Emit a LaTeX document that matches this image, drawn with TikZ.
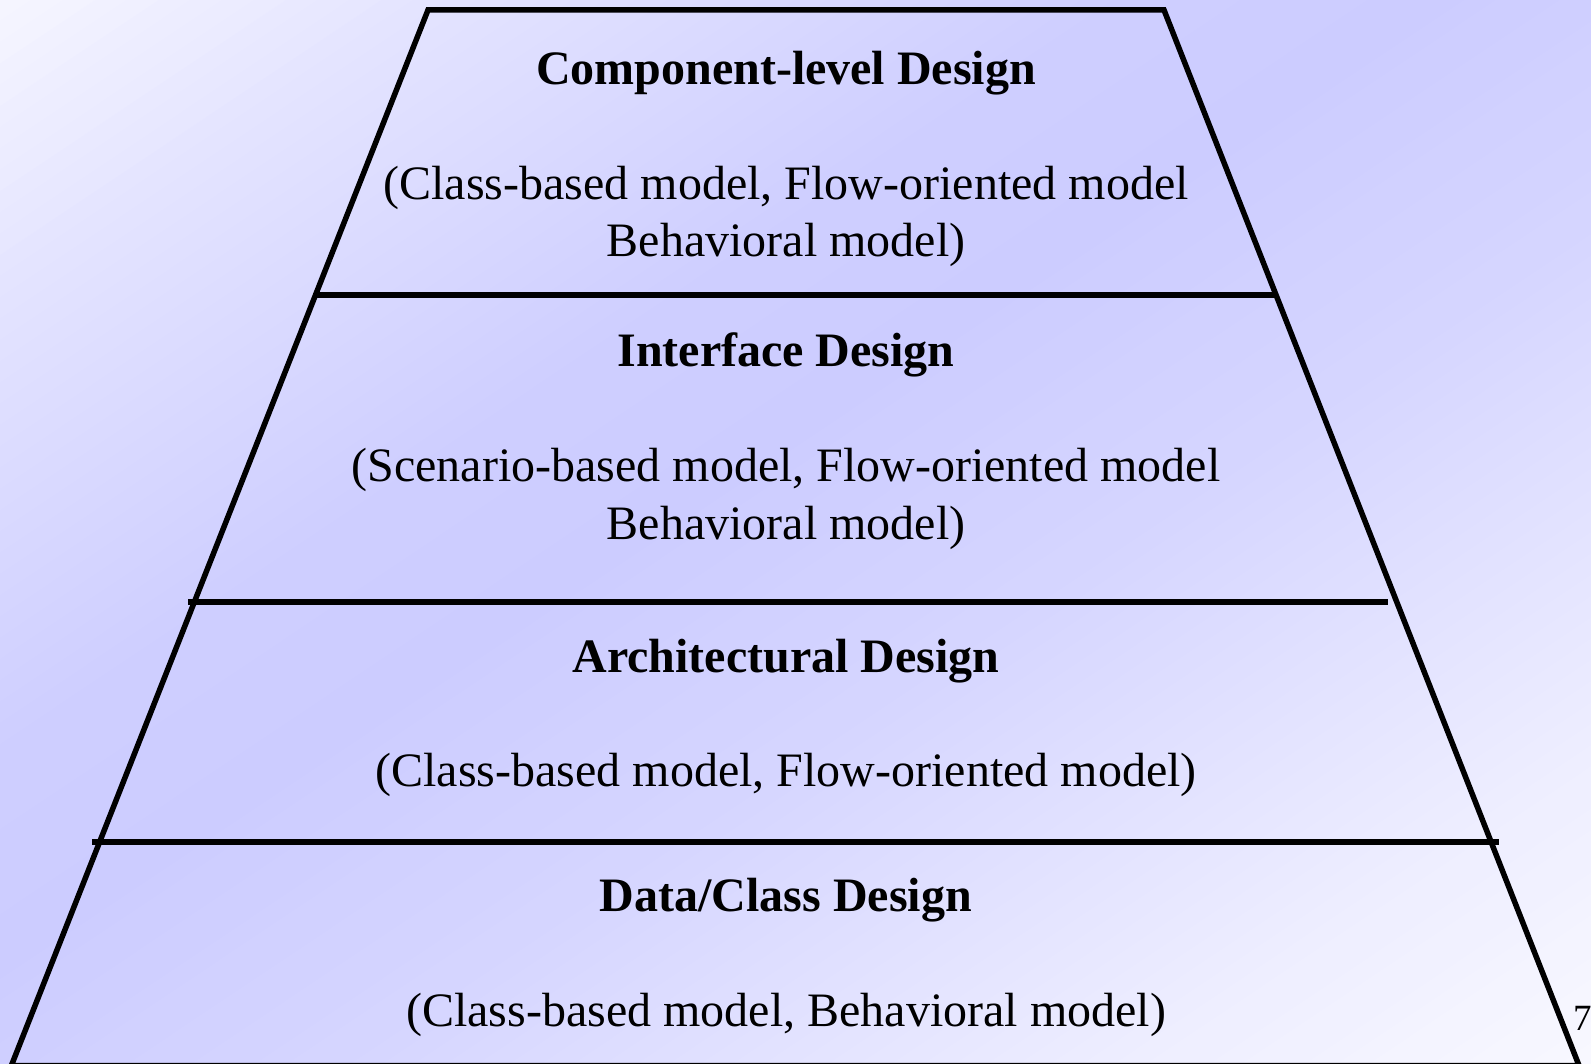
\documentclass[tikz,border=0pt]{standalone}
\usepackage{fontspec}
\setmainfont{Liberation Serif}
\definecolor{lav}{HTML}{CCCCFF}
\definecolor{pale}{HTML}{F8F8FF}
\tikzset{
  edge/.style={line width=5.5pt, black},
  ttl/.style={anchor=base, inner sep=0pt, font=\fontsize{48}{57}\selectfont\bfseries},
  sub/.style={anchor=base, inner sep=0pt, font=\fontsize{48}{57}\selectfont},
  pg/.style={anchor=base west, inner sep=0pt, font=\fontsize{37}{40}\selectfont}
}
\begin{document}
\begin{tikzpicture}[x=1pt,y=-1pt]
\def\W{1591}\def\H{1064}
\useasboundingbox (0,0) rectangle (1591,1064);
% diagonal gradient background: strips parallel to the anti-diagonal
\begin{scope}
\clip (0,0) rectangle (1591,1064);
\foreach \i in {0,...,99}{
  \pgfmathsetmacro{\ta}{\i/100}
  \pgfmathsetmacro{\tb}{(\i+1.6)/100}
  \pgfmathsetmacro{\t}{(\i+0.5)/100}
  \pgfmathsetmacro{\f}{\t<0.12 ? 0.05+\t/0.12*0.36 : (\t<0.35 ? 0.41+(\t-0.12)/0.23*0.54 : (\t<0.45 ? 0.95+(\t-0.35)/0.1*0.05 : (\t<0.62 ? 1-(\t-0.45)/0.17*0.23 : (\t<0.85 ? 0.77-(\t-0.62)/0.23*0.54 : 0.23-(\t-0.85)/0.15*0.23))))}
  \pgfmathsetmacro{\p}{100*\f}
  \pgfmathsetmacro{\ca}{2*\ta}
  \pgfmathsetmacro{\cb}{2*\tb}
  \fill[lav!\p!pale] ({\W*(\ca+1)},{-\H}) -- ({\W*(\ca-2)},{2*\H}) -- ({\W*(\cb-2)},{2*\H}) -- ({\W*(\cb+1)},{-\H}) -- cycle;
}
\end{scope}
% pyramid
\coordinate (tl) at (428,10);
\coordinate (tr) at (1164,10);
\coordinate (bl) at (11.4,1065.5);
\coordinate (br) at (1579,1065.5);
\begin{scope}
\clip (0,0) rectangle (1591,1064);
\draw[edge] (tl) -- (tr) -- (br) -- (bl) -- cycle;
\end{scope}
% dividers
\draw[edge] (314,295) -- (1277,295);
\draw[edge] (188,602) -- (1388,602);
\draw[edge] (92,842) -- (1499,842);
% texts
\node[ttl] (t1) at (786,85) {Component-level Design};
\node[sub] (s1a) at (786,200) {(Class-based model, Flow-oriented model};
\node[sub] (s1b) at (786,257) {Behavioral model)};
\node[ttl] (t2) at (786,367) {Interface Design};
\node[sub] (s2a) at (786,482) {(Scenario-based model, Flow-oriented model};
\node[sub] (s2b) at (786,539) {Behavioral model)};
\node[ttl] (t3) at (786,672) {Architectural Design};
\node[sub] (s3) at (786,786) {(Class-based model, Flow-oriented model)};
\node[ttl] (t4) at (786,911) {Data/Class Design};
\node[sub] (s4) at (786,1026) {(Class-based model, Behavioral model)};
\node[pg] (pnum) at (1573,1030) {7};
\end{tikzpicture}
\end{document}
